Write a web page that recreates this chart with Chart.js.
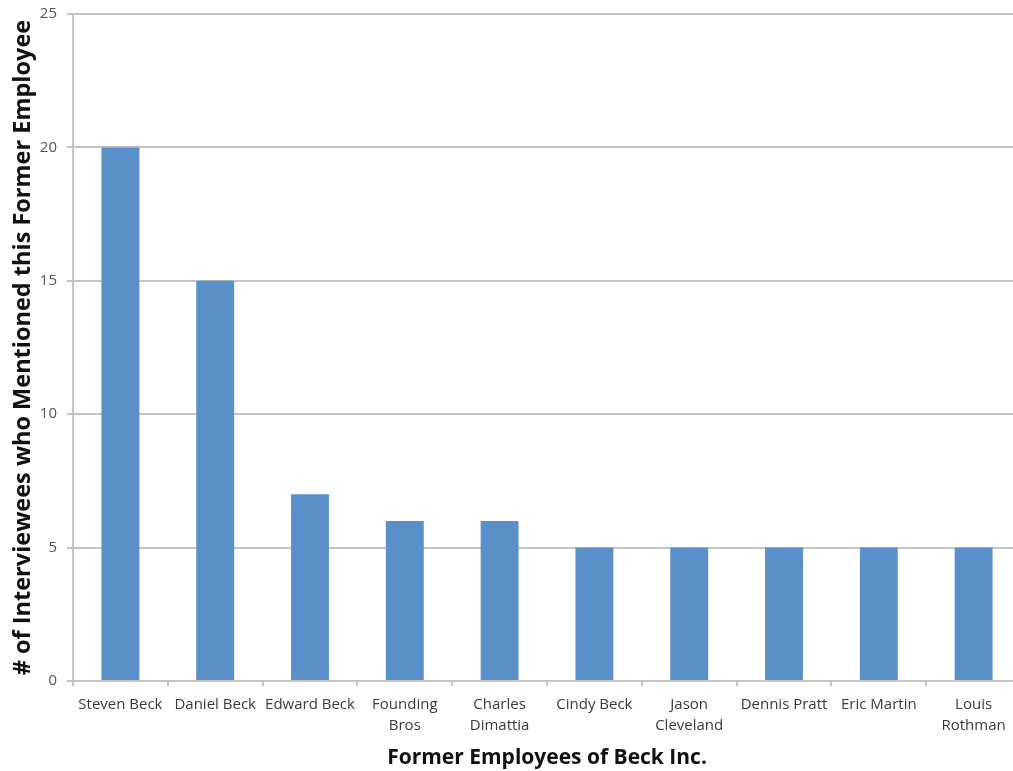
<!DOCTYPE html>
<html>
<head>
<meta charset="utf-8">
<script src="https://cdn.jsdelivr.net/npm/chart.js@4"></script>
<style>
  html, body { margin: 0; padding: 0; background: #fff; overflow: hidden; }
</style>
</head>
<body>
<canvas id="chart" width="1021" height="771"></canvas>
<script>
const employees = [
    'Steven Beck', 'Daniel Beck', 'Edward Beck', ['Founding', 'Bros'], ['Charles', 'Dimattia'],
    'Cindy Beck', ['Jason', 'Cleveland'], 'Dennis Pratt', 'Eric Martin', ['Louis', 'Rothman']
];
const mentions = [20, 15, 7, 6, 6, 5, 5, 5, 5, 5];

const gridColor = '#c4c4c4';
const fontFamily = "'Open Sans', 'Liberation Sans', sans-serif";

new Chart(document.getElementById('chart'), {
    type: 'bar',
    data: {
        labels: employees,
        datasets: [{
            label: 'Mentions',
            data: mentions,
            backgroundColor: '#5b8fc7',
            borderWidth: 0,
            barPercentage: 0.4,
            categoryPercentage: 1.0
        }]
    },
    options: {
        responsive: false,
        animation: false,
        layout: { padding: { top: 14, right: 0, left: 0, bottom: 0 } },
        plugins: {
            legend: { display: false },
            tooltip: { enabled: false }
        },
        scales: {
            x: {
                grid: {
                    drawOnChartArea: false,
                    drawTicks: true,
                    tickLength: 5,
                    color: gridColor,
                    lineWidth: 2
                },
                border: { color: gridColor, width: 2 },
                ticks: {
                    color: '#3a3a3a',
                    padding: 8,
                    maxRotation: 0,
                    autoSkip: false,
                    font: { family: fontFamily, size: 15, lineHeight: 1.4 }
                },
                title: {
                    display: true,
                    text: 'Former Employees of Beck Inc.',
                    color: '#111',
                    font: { family: fontFamily, size: 21, weight: 'bold' },
                    padding: { top: 4, bottom: 0 }
                },
                afterFit: function (scale) { scale.height = 90; }
            },
            y: {
                min: 0,
                max: 25,
                ticks: {
                    stepSize: 5,
                    color: '#555555',
                    padding: 10,
                    font: { family: fontFamily, size: 15 }
                },
                grid: {
                    color: gridColor,
                    lineWidth: 2,
                    tickLength: 6
                },
                border: { color: gridColor, width: 2 },
                title: {
                    display: true,
                    text: '# of Interviewees who Mentioned this Former Employee',
                    color: '#111',
                    font: { family: fontFamily, size: 23.5, weight: 'bold' },
                    padding: { top: 9, bottom: 0 }
                },
                afterFit: function (scale) {
                    scale.width = 73;
                    scale.paddingTop = 0;
                    scale.paddingBottom = 0;
                }
            }
        }
    }
});
</script>
</body>
</html>
